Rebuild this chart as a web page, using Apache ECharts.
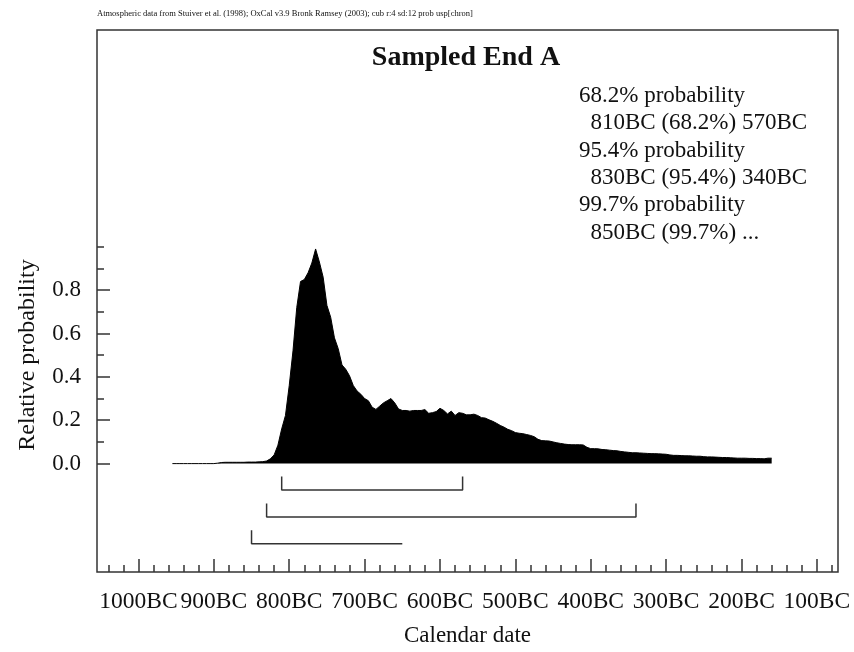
<!DOCTYPE html>
<html>
<head>
<meta charset="utf-8">
<title>Sampled End A</title>
<script src="https://cdn.jsdelivr.net/npm/echarts@6/dist/echarts.min.js"></script>
<style>
    html, body {margin: 0; padding: 0; background: #fff;}
    #main {width: 854px; height: 652px;}
</style>
</head>
<body>
<div id="main"></div>
<script>
// probability per 5 year bin, first bin at 955BC
const startYear = -955;
const step = 5;
const probs = [
    0, 0, 0, 0, 0, 0, 0, 0, 0, 0,
    0, 0, 0.002, 0.005, 0.006, 0.006, 0.006, 0.006, 0.006, 0.006,
    0.007, 0.007, 0.007, 0.008, 0.009, 0.012, 0.022, 0.04, 0.085, 0.16,
    0.222, 0.36, 0.52, 0.72, 0.84, 0.849, 0.88, 0.925, 0.99, 0.93,
    0.86, 0.73, 0.675, 0.58, 0.53, 0.455, 0.435, 0.405, 0.36, 0.335,
    0.32, 0.3, 0.29, 0.26, 0.25, 0.265, 0.28, 0.29, 0.3, 0.28,
    0.252, 0.245, 0.245, 0.242, 0.245, 0.245, 0.245, 0.249, 0.232, 0.235,
    0.24, 0.255, 0.245, 0.229, 0.242, 0.222, 0.235, 0.232, 0.225, 0.225,
    0.228, 0.222, 0.212, 0.21, 0.202, 0.195, 0.186, 0.176, 0.168, 0.158,
    0.152, 0.143, 0.14, 0.138, 0.134, 0.13, 0.124, 0.112, 0.106, 0.105,
    0.104, 0.1, 0.096, 0.093, 0.09, 0.088, 0.087, 0.087, 0.087, 0.086,
    0.075, 0.069, 0.069, 0.068, 0.065, 0.064, 0.062, 0.06, 0.059, 0.056,
    0.054, 0.052, 0.05, 0.05, 0.049, 0.048, 0.047, 0.046, 0.046, 0.045,
    0.044, 0.043, 0.04, 0.038, 0.038, 0.037, 0.036, 0.036, 0.035, 0.034,
    0.034, 0.032, 0.031, 0.031, 0.03, 0.029, 0.028, 0.028, 0.027, 0.026,
    0.025, 0.025, 0.025, 0.024, 0.024, 0.023, 0.023, 0.022, 0.025, 0.025
];

// ranges drawn as brackets under the curve: [from, to, closed at right end]
const ranges = [
    [-810, -570, true],
    [-830, -340, true],
    [-850, -650, false]
];

const xMajorTicks = [-1000, -900, -800, -700, -600, -500, -400, -300, -200, -100];
const yMajorTicks = [0, 0.2, 0.4, 0.6, 0.8];
const yMinorTicks = [0.1, 0.3, 0.5, 0.7, 0.9, 1.0];

const headerText = 'Atmospheric data from Stuiver et al. (1998); OxCal v3.9 Bronk Ramsey (2003); cub r:4 sd:12 prob usp[chron]';
const titleText = 'Sampled End A';
const legendLines = [
    '68.2% probability',
    '  810BC (68.2%) 570BC',
    '95.4% probability',
    '  830BC (95.4%) 340BC',
    '99.7% probability',
    '  850BC (99.7%) ...'
];

const font = 'Liberation Serif, Times New Roman, serif';

const xMinorTicks = [];
for (let y = -1040; y <= -80; y += 20) {
    if (y % 100 !== 0) xMinorTicks.push(y);
}

const curve = probs.map((p, i) => [startYear + i * step, p]);

// bracket levels in y units below the baseline
const bracketSeries = ranges.map((r, i) => {
    const level = -0.122 - i * 0.124;
    const top = level + 0.062;
    const pts = [[r[0], top], [r[0], level], [r[1], level]];
    if (r[2]) pts.push([r[1], top]);
    return {
        type: 'line',
        data: pts,
        symbol: 'none',
        silent: true,
        lineStyle: {color: '#333', width: 1.5},
        animation: false
    };
});

const myChart = echarts.init(document.getElementById('main'));

const tickAxis = (values, len) => ({
    type: 'value',
    position: 'bottom',
    min: -1055,
    max: -72,
    axisLine: {show: false, onZero: false},
    splitLine: {show: false},
    axisTick: {show: true, inside: true, length: len, customValues: values, lineStyle: {color: '#333', width: 1.5}},
    axisLabel: {show: false}
});

const xMain = tickAxis(xMajorTicks, 13);
xMain.axisLabel = {
    show: true,
    customValues: xMajorTicks,
    hideOverlap: false,
    margin: 18,
    color: '#111',
    fontFamily: font,
    fontSize: 23.5,
    formatter: v => (-v) + 'BC'
};
xMain.name = 'Calendar date';
xMain.nameLocation = 'middle';
xMain.nameGap = 52;
xMain.nameTextStyle = {color: '#111', fontFamily: font, fontSize: 23};

const yAxisBase = (values, len) => ({
    type: 'value',
    position: 'left',
    min: -0.5,
    max: 2.0,
    axisLine: {show: false, onZero: false},
    splitLine: {show: false},
    axisTick: {show: true, inside: true, length: len, customValues: values, lineStyle: {color: '#333', width: 1.5}},
    axisLabel: {show: false}
});

const yMain = yAxisBase(yMajorTicks, 13);
yMain.axisLabel = {
    show: true,
    customValues: yMajorTicks,
    margin: 16,
    color: '#111',
    fontFamily: font,
    fontSize: 23,
    formatter: v => v.toFixed(1)
};

const graphics = [
    {
        type: 'text', left: 97, top: 9,
        style: {text: headerText, font: '8.5px ' + font, fill: '#111'}
    },
    {
        type: 'text', x: 466, y: 58,
        style: {text: titleText, font: 'bold 28px ' + font, fill: '#111', align: 'center', verticalAlign: 'middle'}
    },
    {
        type: 'text', x: 28, y: 355, rotation: Math.PI / 2,
        style: {text: 'Relative probability', font: '24px ' + font, fill: '#111', align: 'center', verticalAlign: 'middle'}
    }
];
legendLines.forEach((line, i) => {
    graphics.push({
        type: 'text', x: 579, y: 96 + i * 27.3,
        style: {text: line, font: '23px ' + font, fill: '#111', verticalAlign: 'middle', whiteSpace: 'pre'}
    });
});

myChart.setOption({
    animation: false,
    grid: {
        left: 97,
        right: 16,
        top: 30,
        bottom: 78,
        show: true,
        borderColor: '#333',
        borderWidth: 1.5,
        backgroundColor: '#fff'
    },
    xAxis: [xMain, tickAxis(xMinorTicks, 7)],
    yAxis: [yMain, yAxisBase(yMinorTicks, 7)],
    graphic: graphics,
    series: [
        {
            type: 'line',
            data: curve,
            symbol: 'none',
            silent: true,
            lineStyle: {color: '#000', width: 1},
            areaStyle: {color: '#000', opacity: 1, origin: 0}
        },
        ...bracketSeries
    ]
});
</script>
</body>
</html>
